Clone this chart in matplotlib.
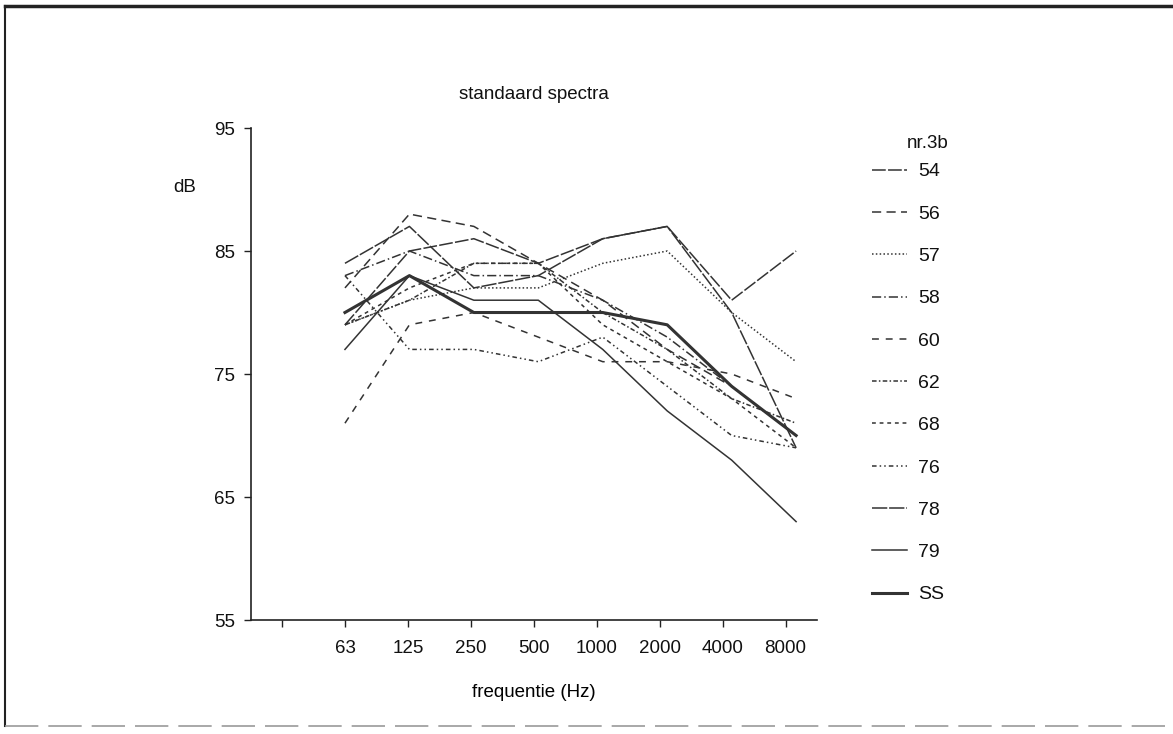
import numpy as np
import matplotlib
matplotlib.use('Agg')
import matplotlib.pyplot as plt
from matplotlib.lines import Line2D

plt.rcParams['font.family'] = ['Liberation Sans', 'DejaVu Sans']
plt.rcParams['text.color'] = '#111111'

freq = ['63', '125', '250', '500', '1000', '2000', '4000', '8000']

s54 = [79, 85, 86, 84, 86, 87, 81, 85]
s56 = [82, 88, 87, 84, 81, 77, 74, 70]
s57 = [79, 81, 82, 82, 84, 85, 80, 76]
s58 = [83, 85, 83, 83, 81, 78, 74, 70]
s60 = [71, 79, 80, 78, 76, 76, 75, 73]
s62 = [79, 81, 84, 84, 80, 77, 73, 71]
s68 = [79, 82, 84, 84, 79, 76, 73, 69]
s76 = [83, 77, 77, 76, 78, 74, 70, 69]
s78 = [84, 87, 82, 83, 86, 87, 80, 69]
s79 = [77, 83, 81, 81, 77, 72, 68, 63]
sSS = [80, 83, 80, 80, 80, 79, 74, 70]

namen = ['54', '56', '57', '58', '60', '62', '68', '76', '78', '79', 'SS']
reeksen = [s54, s56, s57, s58, s60, s62, s68, s76, s78, s79, sSS]
streep = [(0, (9, 1.5)), (0, (6, 3.5)), (0, (1, 1.5)), (0, (6, 2, 1, 2)),
          (0, (4.5, 4.5)), (0, (3, 1.5, 1, 1.5)), (0, (2.5, 2.5)),
          (0, (3, 2, 1, 2, 1, 2)), (0, (10, 1.2)), '-', '-']
dikte = [1.1] * 10 + [2.2]

kleur = '#333333'

fig = plt.figure(figsize=(11.73, 7.34), dpi=100)
ax = fig.add_axes([0.2136, 0.1553, 0.4829, 0.6703])

# in het origineel staan de meetpunten iets ruimer dan de tickjes
x = 1 + np.arange(len(freq)) * 1.024
for naam, y, ls, lw in zip(namen, reeksen, streep, dikte):
    ax.plot(x, y, linestyle=ls, linewidth=lw, color=kleur, label=naam)

ax.set_xlim(-0.5, 8.5)
ax.set_ylim(55, 95)
ax.set_xticks(np.arange(0, 9))
ax.set_xticklabels([''] + freq)
ax.set_yticks([55, 65, 75, 85, 95])
ax.spines['top'].set_visible(False)
ax.spines['right'].set_visible(False)
for sp in ['left', 'bottom']:
    ax.spines[sp].set_linewidth(1.2)
    ax.spines[sp].set_color('#222222')
ax.tick_params(direction='out', length=5, width=1, colors='#222222',
               labelcolor='#111111', labelsize=13.5, pad=6)
ax.tick_params(axis='x', pad=9.5)
ax.set_xlabel('frequentie (Hz)', fontsize=13.5, labelpad=19)
ax.set_title('standaard spectra', fontsize=13.5, pad=21)

fig.text(185 / 1173, 1 - 188 / 734, 'dB', fontsize=13.5, ha='center', va='center')
fig.text(928 / 1173, 1 - 143 / 734, 'nr.3b', fontsize=13.5, ha='center', va='center')

leg = ax.legend(loc='upper left', bbox_to_anchor=(864 / 1173, 1 - 155 / 734),
                bbox_transform=fig.transFigure, frameon=False, fontsize=14,
                handlelength=1.8, handletextpad=0.57, labelspacing=1.27,
                borderaxespad=0)

# kader om de figuur
fig.add_artist(Line2D([5 / 1173, 1], [1 - 6 / 734, 1 - 6 / 734],
                      transform=fig.transFigure, color='#222222', lw=2.5))
fig.add_artist(Line2D([5 / 1173, 5 / 1173], [1 - 6 / 734, 1 - 726 / 734],
                      transform=fig.transFigure, color='#222222', lw=1.5))
fig.add_artist(Line2D([5 / 1173, 1], [1 - 726 / 734, 1 - 726 / 734],
                      transform=fig.transFigure, color='#999999', lw=1.2,
                      linestyle=(0, (20, 6))))

plt.savefig('out.png', dpi=100)
